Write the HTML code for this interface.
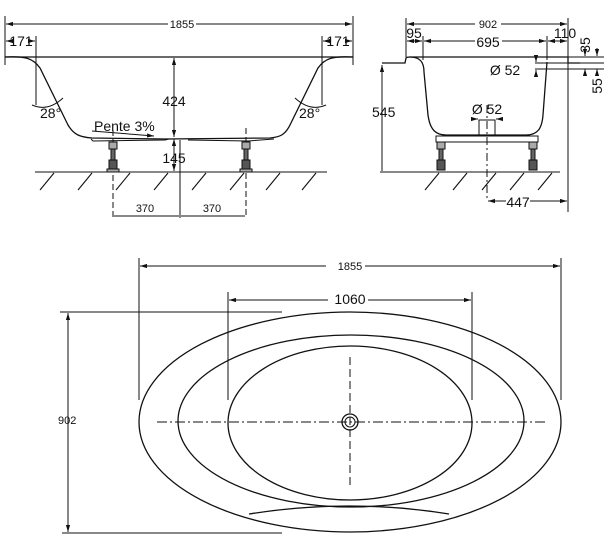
<!DOCTYPE html>
<html><head><meta charset="utf-8"><style>
html,body{margin:0;padding:0;background:#fff;}
svg{display:block;}
text{font-family:"Liberation Sans",Arial,sans-serif;fill:#111;}
</style></head><body>
<svg width="616" height="540" viewBox="0 0 616 540" xmlns="http://www.w3.org/2000/svg">
<defs>
<marker id="a" viewBox="0 0 10 10" refX="10" refY="5" markerWidth="7" markerHeight="7" orient="auto-start-reverse"><path d="M0,2 L10,5 L0,8 z" fill="#111"/></marker>
</defs>
<g stroke="#111" fill="none" stroke-width="1">
<!-- FRONT VIEW -->
<line x1="5" y1="16" x2="5" y2="65"/><line x1="353" y1="16" x2="353" y2="65"/>
<line x1="6" y1="24" x2="168" y2="24" marker-start="url(#a)"/><line x1="196" y1="24" x2="352" y2="24" marker-end="url(#a)"/>
<line x1="36" y1="36" x2="36" y2="105"/><line x1="322" y1="36" x2="322" y2="105"/>
<line x1="6" y1="41" x2="9" y2="41" marker-start="url(#a)"/><line x1="33" y1="41" x2="35" y2="41" marker-end="url(#a)"/>
<line x1="323" y1="41" x2="325" y2="41" marker-start="url(#a)"/><line x1="350" y1="41" x2="352" y2="41" marker-end="url(#a)"/>
<line x1="5" y1="57" x2="353" y2="57" stroke-width="1.3"/>
<path d="M5,57 C25,56 33,58 40,68 L68,125 C74,135 80,137 92,138 L166,139 L270,138 C280,137 285,135 290,125 L318,68 C325,58 333,56 353,57" stroke-width="1.3"/>
<path d="M91,139 L93,141 L165,140 L169,139 M188,140 L248,141 L274,139" />
<path d="M32,105 Q48,112 63,98" /><path d="M295,98 Q310,112 326,105"/>
<line x1="92" y1="131" x2="154" y2="136" marker-end="url(#a)"/>
<line x1="174" y1="58" x2="174" y2="137" marker-start="url(#a)" marker-end="url(#a)"/>
<line x1="174" y1="139" x2="174" y2="171" marker-start="url(#a)" marker-end="url(#a)"/>
<line x1="180" y1="140" x2="180" y2="218"/>
<line x1="35" y1="172" x2="327" y2="172"/>
<g stroke-width="1.1">
<line x1="40" y1="190" x2="54" y2="173"/><line x1="78" y1="190" x2="92" y2="173"/><line x1="116" y1="190" x2="130" y2="173"/><line x1="154" y1="190" x2="168" y2="173"/><line x1="192" y1="190" x2="206" y2="173"/><line x1="230" y1="190" x2="244" y2="173"/><line x1="266" y1="190" x2="280" y2="173"/><line x1="302" y1="190" x2="316" y2="173"/>
</g>
<line x1="113" y1="130" x2="113" y2="218" stroke-dasharray="6,3"/><line x1="246" y1="128" x2="246" y2="218" stroke-dasharray="6,3"/>
<line x1="114" y1="216" x2="179" y2="216"/><line x1="181" y1="216" x2="245" y2="216"/>
<!-- legs -->
<rect x="109" y="142" width="8" height="7" fill="#aaa"/><rect x="111" y="149" width="4" height="12" fill="#666"/><rect x="109" y="160" width="8" height="10" fill="#555"/><rect x="107" y="169" width="12" height="3" fill="#aaa"/>
<rect x="242" y="142" width="8" height="7" fill="#aaa"/><rect x="244" y="149" width="4" height="12" fill="#666"/><rect x="242" y="160" width="8" height="10" fill="#555"/><rect x="240" y="169" width="12" height="3" fill="#aaa"/>
<!-- SIDE VIEW -->
<line x1="406" y1="18" x2="406" y2="57"/><line x1="568" y1="18" x2="568" y2="212"/>
<line x1="423" y1="36" x2="423" y2="60"/><line x1="547" y1="36" x2="547" y2="60"/>
<line x1="407" y1="24" x2="475" y2="24" marker-start="url(#a)"/><line x1="501" y1="24" x2="567" y2="24" marker-end="url(#a)"/>
<line x1="407" y1="41" x2="422" y2="41" marker-start="url(#a)" marker-end="url(#a)"/>
<line x1="424" y1="41" x2="475" y2="41" marker-start="url(#a)"/><line x1="502" y1="41" x2="546" y2="41" marker-end="url(#a)"/>
<line x1="548" y1="41" x2="567" y2="41" marker-start="url(#a)" marker-end="url(#a)"/>
<path d="M382,63 L405,63 L406,58 Q407,57 410,57 L568,57 L568,63 L580,63" stroke-width="1.3"/>
<path d="M410,57 C420,57 424,62 424,72 L428,115 C430,130 436,135 446,135 L526,135 C538,135 542,128 543,115 L547,62" stroke-width="1.3"/>
<line x1="382" y1="65" x2="382" y2="171" marker-start="url(#a)"/>
<line x1="380" y1="172" x2="560" y2="172"/>
<rect x="436" y="136" width="102" height="6"/>
<rect x="479" y="120" width="16" height="16"/>
<line x1="474" y1="119" x2="478" y2="119" marker-end="url(#a)"/><line x1="500" y1="119" x2="496" y2="119" marker-end="url(#a)"/>
<line x1="487" y1="105" x2="487" y2="200" stroke-dasharray="8,3,2,3"/>
<line x1="488" y1="201" x2="506" y2="201" marker-start="url(#a)"/><line x1="530" y1="201" x2="567" y2="201" marker-end="url(#a)"/>
<rect x="437" y="142" width="8" height="7" fill="#aaa"/><rect x="439" y="149" width="4" height="12" fill="#666"/><rect x="437" y="160" width="8" height="10" fill="#555"/>
<rect x="529" y="142" width="8" height="7" fill="#aaa"/><rect x="531" y="149" width="4" height="12" fill="#666"/><rect x="529" y="160" width="8" height="10" fill="#555"/>
<g stroke-width="1.1">
<line x1="425" y1="190" x2="439" y2="173"/><line x1="453" y1="190" x2="467" y2="173"/><line x1="482" y1="190" x2="496" y2="173"/><line x1="510" y1="190" x2="524" y2="173"/><line x1="538" y1="190" x2="552" y2="173"/>
</g>
<!-- overflow -->
<line x1="535" y1="63" x2="604" y2="63"/><line x1="535" y1="69" x2="604" y2="69"/>
<line x1="568" y1="57" x2="604" y2="57"/>
<line x1="536" y1="58" x2="536" y2="62" marker-end="url(#a)"/><line x1="536" y1="74" x2="536" y2="70" marker-end="url(#a)"/>
<line x1="585" y1="48" x2="585" y2="56" marker-end="url(#a)"/><line x1="585" y1="76" x2="585" y2="69" marker-end="url(#a)"/>
<line x1="597" y1="48" x2="597" y2="56" marker-end="url(#a)"/><line x1="597" y1="76" x2="597" y2="69" marker-end="url(#a)"/>
<!-- TOP VIEW -->
<line x1="139" y1="258" x2="139" y2="400"/><line x1="561" y1="258" x2="561" y2="400"/>
<line x1="140" y1="266" x2="326" y2="266" marker-start="url(#a)"/><line x1="365" y1="266" x2="560" y2="266" marker-end="url(#a)"/>
<line x1="228" y1="292" x2="228" y2="400"/><line x1="472" y1="292" x2="472" y2="400"/>
<line x1="229" y1="300" x2="328" y2="300" marker-start="url(#a)"/><line x1="368" y1="300" x2="471" y2="300" marker-end="url(#a)"/>
<line x1="60" y1="312" x2="282" y2="312"/><line x1="62" y1="533" x2="282" y2="533"/>
<line x1="68" y1="313" x2="68" y2="532" marker-start="url(#a)" marker-end="url(#a)"/>
<ellipse cx="350" cy="422" rx="211" ry="110" stroke-width="1.3"/>
<ellipse cx="351" cy="421" rx="173" ry="86" stroke-width="1.3"/>
<ellipse cx="350" cy="423" rx="122" ry="77" stroke-width="1.3"/>
<path d="M249,514 Q350,498 449,514" stroke-width="1.3"/>
<line x1="157" y1="422" x2="545" y2="422" stroke-dasharray="10,3,2,3"/>
<line x1="350" y1="357" x2="350" y2="489" stroke-dasharray="8,4"/>
<circle cx="350" cy="422" r="8" stroke-width="1.3"/><circle cx="350" cy="422" r="5"/>
</g>
<g font-size="11">
<text x="182" y="28" text-anchor="middle">1855</text>
<text x="488" y="28" text-anchor="middle">902</text>
<text x="350" y="270" text-anchor="middle">1855</text>
<text x="58" y="424">902</text>
<text x="145" y="212" text-anchor="middle">370</text>
<text x="212" y="212" text-anchor="middle">370</text>
</g>
<g font-size="14">
<text x="21" y="46" text-anchor="middle">171</text>
<text x="338" y="46" text-anchor="middle">171</text>
<text x="40" y="118">28°</text>
<text x="299" y="118">28°</text>
<text x="94" y="131">Pente 3%</text>
<text x="174" y="106" text-anchor="middle">424</text>
<text x="174" y="163" text-anchor="middle">145</text>
<text x="414" y="38" text-anchor="middle">95</text>
<text x="488" y="47" text-anchor="middle">695</text>
<text x="565" y="38" text-anchor="middle">110</text>
<text x="505" y="75" text-anchor="middle">Ø 52</text>
<text x="487" y="114" text-anchor="middle">Ø 52</text>
<text x="372" y="117">545</text>
<text x="518" y="207" text-anchor="middle">447</text>
<text x="350" y="304" text-anchor="middle">1060</text>
<text transform="translate(590,45) rotate(-90)" text-anchor="middle">35</text>
<text transform="translate(602,86) rotate(-90)" text-anchor="middle">55</text>
</g>
</svg>
</body></html>
